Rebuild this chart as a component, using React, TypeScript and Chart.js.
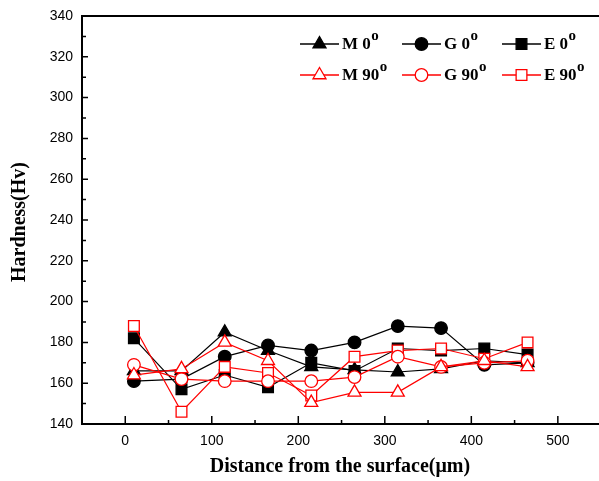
import React, { useEffect, useRef } from 'react';
import { Chart, registerables } from 'chart.js';

Chart.register(...registerables);

// ---- data ----
const distances = [10, 65, 115, 165, 215, 265, 315, 365, 415, 465];
const m0 = [166, 166, 185, 176, 168, 166.5, 165.5, 167, 171, 170];
const g0 = [161, 162, 173, 178.5, 176, 180, 188, 187, 169, 170];
const e0 = [182, 157, 164, 158, 170, 166, 177, 176, 177, 174];
const m90 = [164, 167, 180, 171, 150.5, 155.5, 155.5, 168, 171, 168];
const g90 = [169, 162, 161, 161, 161, 163, 173, 168, 170, 171];
const e90 = [188, 146, 168, 165, 154, 173, 176, 177, 172, 180];
const seriesNames = ['M 0', 'G 0', 'E 0', 'M 90', 'G 90', 'E 90'];
const degreeMark = 'o';
const xTicks = [0, 100, 200, 300, 400, 500];
const yTicks = [140, 160, 180, 200, 220, 240, 260, 280, 300, 320, 340];
const xTitle = 'Distance from the surface(\u03bcm)';
const yTitle = 'Hardness(Hv)';

const BLACK = '#000000';
const RED = '#ff0000';

type Style = { shape: 'triangle' | 'circle' | 'rect'; color: string; fill: string; r: number };
const styles: Style[] = [
  { shape: 'triangle', color: BLACK, fill: BLACK, r: 7.5 },
  { shape: 'circle', color: BLACK, fill: BLACK, r: 6.3 },
  { shape: 'rect', color: BLACK, fill: BLACK, r: 7.6 },
  { shape: 'triangle', color: RED, fill: '#ffffff', r: 7.5 },
  { shape: 'circle', color: RED, fill: '#ffffff', r: 6.3 },
  { shape: 'rect', color: RED, fill: '#ffffff', r: 7.6 },
];
const seriesValues = [m0, g0, e0, m90, g90, e90];

function drawMarker(ctx: CanvasRenderingContext2D, s: Style, x: number, y: number) {
  ctx.beginPath();
  if (s.shape === 'circle') {
    ctx.arc(x, y, s.r, 0, Math.PI * 2);
  } else if (s.shape === 'rect') {
    const h = s.r * Math.SQRT1_2;
    ctx.rect(x - h, y - h, 2 * h, 2 * h);
  } else {
    for (let i = 0; i < 3; i++) {
      const a = (i * 2 * Math.PI) / 3;
      const px = x + Math.sin(a) * s.r;
      const py = y - Math.cos(a) * s.r;
      if (i === 0) ctx.moveTo(px, py);
      else ctx.lineTo(px, py);
    }
    ctx.closePath();
  }
  ctx.fillStyle = s.fill;
  ctx.fill();
  ctx.strokeStyle = s.color;
  ctx.lineWidth = 1.3;
  ctx.stroke();
}

const decorPlugin = {
  id: 'decor',
  afterDraw(chart: any) {
    const { ctx, chartArea: a, scales } = chart;
    const x = scales.x;
    const y = scales.y;
    ctx.save();
    // frame
    ctx.strokeStyle = BLACK;
    ctx.lineWidth = 2;
    ctx.strokeRect(a.left, a.top, a.right - a.left, a.bottom - a.top);
    // ticks (inward)
    ctx.lineWidth = 1.5;
    ctx.beginPath();
    const xStep = xTicks[1] - xTicks[0];
    for (const v of xTicks) {
      const px = x.getPixelForValue(v);
      ctx.moveTo(px, a.bottom);
      ctx.lineTo(px, a.bottom - 8);
    }
    for (let v = xTicks[0] - xStep / 2; v <= x.max; v += xStep) {
      if (v < x.min) continue;
      const px = x.getPixelForValue(v);
      ctx.moveTo(px, a.bottom);
      ctx.lineTo(px, a.bottom - 4);
    }
    const yStep = yTicks[1] - yTicks[0];
    for (const v of yTicks) {
      const py = y.getPixelForValue(v);
      ctx.moveTo(a.left, py);
      ctx.lineTo(a.left + 6, py);
    }
    for (let v = yTicks[0] + yStep / 2; v < y.max; v += yStep) {
      const py = y.getPixelForValue(v);
      ctx.moveTo(a.left, py);
      ctx.lineTo(a.left + 4, py);
    }
    ctx.stroke();

    // axis titles
    ctx.fillStyle = BLACK;
    ctx.font = 'bold 20px "Liberation Serif", "Times New Roman", serif';
    ctx.textAlign = 'center';
    ctx.textBaseline = 'middle';
    ctx.fillText(xTitle, 340, 467);
    ctx.save();
    ctx.translate(20, (a.top + a.bottom) / 2 + 2);
    ctx.rotate(-Math.PI / 2);
    ctx.fillText(yTitle, 0, 0);
    ctx.restore();

    // legend
    const colLine = [300, 402, 502];
    const rowY = [44, 75];
    const rowBase = [49, 80];
    for (let i = 0; i < seriesNames.length; i++) {
      const c = i % 3;
      const r = Math.floor(i / 3);
      const s = styles[i];
      const lx = colLine[c];
      const ly = rowY[r];
      ctx.strokeStyle = s.color;
      ctx.lineWidth = 1.3;
      ctx.beginPath();
      ctx.moveTo(lx, ly);
      ctx.lineTo(lx + 39, ly);
      ctx.stroke();
      drawMarker(ctx, s, lx + 19.5, ly);
      ctx.fillStyle = BLACK;
      ctx.textAlign = 'left';
      ctx.textBaseline = 'alphabetic';
      ctx.font = 'bold 17px "Liberation Serif", "Times New Roman", serif';
      const tx = lx + 42;
      ctx.fillText(seriesNames[i], tx, rowBase[r]);
      const w = ctx.measureText(seriesNames[i]).width;
      ctx.font = 'bold 15px "Liberation Serif", "Times New Roman", serif';
      ctx.fillText(degreeMark, tx + w + 0.5, rowBase[r] - 9);
    }
    ctx.restore();
  },
};

export default function App() {
  const ref = useRef<HTMLCanvasElement | null>(null);
  useEffect(() => {
    if (!ref.current) return;
    const datasets = seriesValues.map((vals, i) => {
      const s = styles[i];
      return {
        label: seriesNames[i] + '\u00b0',
        data: distances.map((d, k) => ({ x: d, y: vals[k] })),
        borderColor: s.color,
        backgroundColor: s.fill,
        borderWidth: 1.2,
        pointStyle: s.shape,
        pointRadius: s.r,
        pointHoverRadius: s.r,
        pointBackgroundColor: s.fill,
        pointBorderColor: s.color,
        pointBorderWidth: 1.3,
        tension: 0,
        order: i < 3 ? 1 : 0,
      };
    });
    const chart = new Chart(ref.current, {
      type: 'line',
      data: { datasets },
      options: {
        animation: false,
        responsive: false,
        devicePixelRatio: 1,
        layout: { padding: { top: 16, right: 2, left: 0, bottom: 0 } },
        plugins: { legend: { display: false }, tooltip: { enabled: false } },
        scales: {
          x: {
            type: 'linear',
            min: -50,
            max: 550,
            grid: { display: false, drawTicks: false },
            border: { display: false },
            afterBuildTicks: (sc: any) => {
              sc.ticks = xTicks.map((v) => ({ value: v }));
            },
            afterFit: (sc: any) => {
              sc.height = 57;
              sc.paddingLeft = 0;
              sc.paddingRight = 0;
            },
            ticks: {
              color: BLACK,
              padding: 9,
              maxRotation: 0,
              font: { family: '"Liberation Sans", Arial, sans-serif', size: 14 },
            },
          },
          y: {
            type: 'linear',
            min: 140,
            max: 340,
            grid: { display: false, drawTicks: false },
            border: { display: false },
            afterBuildTicks: (sc: any) => {
              sc.ticks = yTicks.map((v) => ({ value: v }));
            },
            afterFit: (sc: any) => {
              sc.width = 82;
              sc.paddingTop = 0;
              sc.paddingBottom = 0;
            },
            ticks: {
              color: BLACK,
              padding: 9,
              font: { family: '"Liberation Sans", Arial, sans-serif', size: 14 },
            },
          },
        },
      },
      plugins: [decorPlugin],
    });
    return () => chart.destroy();
  }, []);
  return (
    <div style={{ position: 'absolute', left: 0, top: 0, width: 599, height: 481, overflow: 'hidden', background: '#fff' }}>
      <canvas ref={ref} width={610} height={481} style={{ display: 'block', width: 610, height: 481 }} />
    </div>
  );
}
